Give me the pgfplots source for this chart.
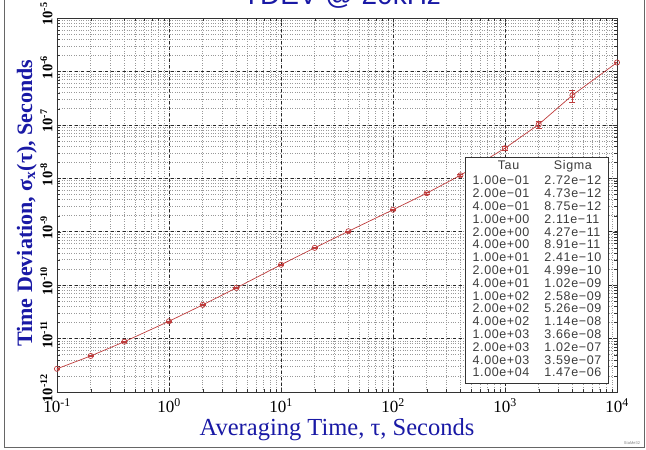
\documentclass[border=0pt]{standalone}
\usepackage{pgfplots}
\pgfplotsset{compat=1.18}
\usepackage{pgfplotstable}
\usepackage{fontspec}
\setmainfont{Liberation Serif}
\newfontfamily\tabfont{Liberation Sans}
\newfontfamily\tabfontw[LetterSpace=5]{Liberation Sans}

\definecolor{labblue}{RGB}{25,25,165}
\definecolor{curve}{RGB}{190,60,60}
\definecolor{tabgray}{RGB}{60,60,60}

% tau [s], sigma_x(tau) [s], error bar
\pgfplotstableread{
tau     sigma     err
0.1     2.72e-12  0.5e-13
0.2     4.73e-12  0.9e-13
0.4     8.75e-12  1.8e-13
1       2.11e-11  4.5e-13
2       4.27e-11  9e-13
4       8.91e-11  2e-12
10      2.41e-10  5e-12
20      4.99e-10  1.1e-11
40      1.02e-09  2.5e-11
100     2.58e-09  7e-11
200     5.26e-09  1.6e-10
400     1.14e-08  5.7e-10
1000    3.66e-08  3.0e-09
2000    1.02e-07  1.6e-08
4000    3.59e-07  9.5e-08
10000   1.47e-06  0
}\tdev

\begin{document}
\begin{tikzpicture}
\useasboundingbox (0pt,0pt) rectangle (646pt,450pt);
\draw[gray!80!black, line width=0.8pt] (4pt,3pt) rectangle (644pt,470pt);
\node[anchor=base, text=labblue, font=\tabfont\fontsize{28}{28}\selectfont] at (342pt,445pt) {TDEV @ 20kHz};
\node[font=\tabfont\fontsize{4}{4}\selectfont, text=gray] at (632pt,7pt) {StaMe32};

\begin{axis}[
    at={(57pt,58pt)}, anchor=south west,
    scale only axis, width=560pt, height=374pt,
    xmode=log, ymode=log, log basis x=10, log basis y=10,
    xmin=0.1, xmax=1e4, ymin=1e-12, ymax=1e-5,
    axis line style={black!80, line width=0.8pt},
    grid=both,
    major grid style={black!85, dashed, line width=0.6pt},
    minor grid style={gray!80, dotted, line width=0.6pt},
    tick style={black!80},
    xticklabel={\pgfmathparse{int(round(\tick))}10\textsuperscript{\pgfmathresult}},
    yticklabel={\pgfmathparse{int(round(\tick))}10\textsuperscript{\pgfmathresult}},
    xticklabel style={font=\fontsize{17}{17}\selectfont, yshift=-3pt},
    yticklabel style={font=\bfseries\fontsize{14.5}{14.5}\selectfont, rotate=90, anchor=south, xshift=4pt, yshift=1pt},
    xlabel={Averaging Time, τ, Seconds},
    ylabel={Time Deviation, σ\textsubscript{x}(τ), Seconds},
    xlabel style={font=\fontsize{24.5}{24.5}\selectfont, text=labblue, at={(axis description cs:0.5,-0.1)}, anchor=center},
    ylabel style={font=\bfseries\fontsize{22}{22}\selectfont, text=labblue, at={(axis description cs:-0.054,0.505)}, anchor=center},
]
\addplot[curve, line width=0.7pt, mark=o, mark size=2.6pt,
    error bars/.cd, y dir=both, y explicit,
    error bar style={curve, line width=0.7pt},
    error mark options={rotate=90, mark size=3pt, curve}]
  table[x=tau, y=sigma, y error=err] {\tdev};

\node[draw=black!80, fill=white, anchor=north west, inner sep=0pt,
      minimum width=143pt, minimum height=226pt, text=tabgray,
      font=\tabfontw\fontsize{12.5}{12.8}\selectfont]
  at (rel axis cs:0.729,0.628) {%
  \begin{tabular}{@{}l@{\hspace{15pt}}l@{}}
  \multicolumn{1}{c}{Tau} & \multicolumn{1}{c}{Sigma}\\[3pt]
  1.00e−01 & 2.72e−12\\
  2.00e−01 & 4.73e−12\\
  4.00e−01 & 8.75e−12\\
  1.00e+00 & 2.11e−11\\
  2.00e+00 & 4.27e−11\\
  4.00e+00 & 8.91e−11\\
  1.00e+01 & 2.41e−10\\
  2.00e+01 & 4.99e−10\\
  4.00e+01 & 1.02e−09\\
  1.00e+02 & 2.58e−09\\
  2.00e+02 & 5.26e−09\\
  4.00e+02 & 1.14e−08\\
  1.00e+03 & 3.66e−08\\
  2.00e+03 & 1.02e−07\\
  4.00e+03 & 3.59e−07\\
  1.00e+04 & 1.47e−06
  \end{tabular}};
\end{axis}
\end{tikzpicture}
\end{document}
